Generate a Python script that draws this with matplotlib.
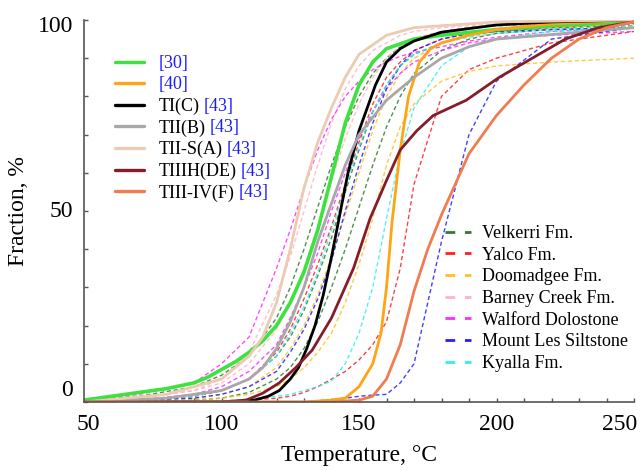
import matplotlib
matplotlib.use('Agg')
import matplotlib.pyplot as plt
import matplotlib.transforms as mtransforms

plt.rcParams['font.family'] = ['Liberation Serif', 'DejaVu Serif']

# ---- reference curves (solid) ----
green_T = [50, 60, 70, 80, 90, 95, 100, 105, 110, 115, 120, 125, 130, 135, 140, 145, 150, 155, 160, 170, 180, 200, 220, 250]
green_F = [0.5, 1.5, 2.5, 3.5, 5, 6.5, 8.5, 10.5, 13, 16, 20, 26, 34, 45, 59, 73, 83, 89, 92.5, 95, 96, 97.5, 98.5, 99.5]

orange_T = [50, 130, 140, 145, 150, 155, 158, 160, 162, 165, 168, 172, 176, 180, 190, 200, 220, 250]
orange_F = [0, 0, 0.5, 1, 4, 10, 18, 30, 47, 66, 80, 89, 92.5, 94, 96, 97.5, 99, 100]

black_T = [50, 105, 112, 117, 121, 125, 128, 131, 134, 137, 140, 143, 146, 150, 153, 156, 160, 165, 170, 180, 200, 220, 250]
black_F = [0, 0, 0.5, 1.5, 3, 6, 9, 14, 20, 28, 38, 49, 60, 71, 77, 83, 89, 92.5, 94.5, 96.8, 98.7, 99.5, 100]

gray_T = [50, 80, 100, 110, 115, 120, 125, 130, 135, 140, 145, 150, 160, 170, 180, 190, 200, 250]
gray_F = [0, 1, 3, 6, 9, 14, 21, 30, 42, 52, 62, 70, 79, 85, 90, 93, 95, 98]

tan_T = [50, 80, 100, 110, 115, 120, 125, 130, 135, 140, 145, 150, 160, 170, 200, 250]
tan_F = [0, 2, 6, 12, 17, 26, 40, 56, 68, 77, 85, 91, 96, 98, 99.5, 100]

dred_T = [50, 100, 109, 115, 121, 127, 133, 140, 148, 154, 160, 165, 171, 177, 189, 201, 213, 225, 237, 250]
dred_F = [0, 0, 0.5, 2.3, 5, 9, 13.6, 22, 35, 48, 58, 66, 71, 75, 79, 85, 90, 95, 98, 99.5]

salmon_T = [50, 140, 150, 155, 160, 165, 170, 175, 180, 185, 190, 200, 210, 220, 230, 240, 250]
salmon_F = [0, 0, 0.5, 1.5, 6, 15, 29, 40, 49, 57, 65, 75, 83, 90, 95, 98, 99.5]

# ---- formation samples (dashed) on a common temperature grid ----
grid_T = [50, 70, 90, 100, 110, 120, 125, 130, 135, 140, 145, 150, 155, 160, 165, 170, 180, 190, 200, 220, 250]

velkerri = [
    [0.5, 1.5, 4, 7, 12, 22, 30, 40, 51, 62, 72, 80, 86, 90, 93, 95, 97, 98, 98.5, 99, 99.5],
    [0, 0.5, 1.5, 3, 6, 12, 17, 24, 33, 43, 55, 66, 76, 83, 88, 91, 94, 96, 97, 98, 98.5],
    [0, 0, 0.5, 1, 2.5, 6, 9, 14, 21, 30, 40, 51, 62, 72, 80, 86, 92, 95, 96.5, 97.5, 98],
]
yalco = [
    [0, 0.5, 1.5, 3, 6, 13, 19, 27, 36, 46, 57, 68, 78, 85, 89, 92, 95, 96.5, 97.5, 98, 99],
    [0, 0, 0, 0, 0.5, 1, 1.5, 2.5, 4, 6, 8, 11, 15, 21, 35, 57, 80, 87, 90, 94, 97],
]
doomadgee = [
    [0, 0, 0.5, 1, 2, 4, 6, 9, 13, 18, 26, 36, 48, 62, 72, 78, 84, 86.5, 88, 89, 90],
    [0, 0.5, 1, 2, 4, 9, 14, 20, 28, 38, 49, 60, 71, 80, 86, 90, 94, 96, 97, 98, 99],
]
barney = [
    [0, 1, 3, 6, 13, 28, 38, 50, 62, 73, 82, 88, 92, 94, 96, 97, 98, 98.5, 99, 99.5, 100],
    [0, 1, 3, 5, 10, 19, 26, 35, 46, 58, 69, 78, 85, 90, 93, 95, 97, 98, 98.5, 99, 99.5],
]
walford = [
    [0.5, 2, 5, 10, 17, 35, 45, 56, 66, 74, 80, 84, 87, 89, 90.5, 91.5, 93, 94.5, 95.5, 97, 98],
    [0, 0.5, 2, 4, 8, 15, 22, 30, 39, 50, 60, 69, 76, 82, 86, 89, 92, 94, 95, 96, 97],
]
mountles = [
    [0, 0, 0, 0, 0, 0, 0, 0, 0.3, 0.6, 1, 1.5, 1.8, 2, 5, 10, 42, 70, 84, 95, 98],
    [0, 0.5, 1, 2, 4, 8, 13, 19, 27, 37, 50, 62, 73, 82, 88, 92, 95, 96.5, 97, 97.5, 98],
]
kyalla = [
    [0, 0, 0, 0.3, 0.8, 1.5, 2, 3, 4, 5.5, 10, 18, 30, 48, 65, 77, 88, 93, 95, 97, 98],
    [0, 0.5, 1.5, 3, 6, 12, 18, 25, 34, 45, 56, 67, 76, 83, 88, 91, 94, 95.5, 96.5, 97.5, 98.5],
]

formations = ['Velkerri Fm.', 'Yalco Fm.', 'Doomadgee Fm.', 'Barney Creek Fm.',
              'Walford Dolostone', 'Mount Les Siltstone', 'Kyalla Fm.']
form_data = [velkerri, yalco, doomadgee, barney, walford, mountles, kyalla]
form_colors = ['#2f7d2f', '#ff1f1f', '#ffc01f', '#ffb3c3', '#ff2bff', '#1f1fff', '#2ff0f0']

ref_names = ['[30]', '[40]', 'TI(C)', 'TII(B)', 'TII-S(A)', 'TIIIH(DE)', 'TIII-IV(F)']
ref_T = [green_T, orange_T, black_T, gray_T, tan_T, dred_T, salmon_T]
ref_F = [green_F, orange_F, black_F, gray_F, tan_F, dred_F, salmon_F]
ref_colors = ['#3ee23e', '#ffa414', '#000000', '#a8a8a8', '#ebcbb3', '#851c2a', '#f07c50']
blue = '#1c1cff'

fig = plt.figure(figsize=(6.44, 4.70), dpi=100)
ax = fig.add_axes([84 / 644, 1 - 402 / 470, 550 / 644, 382 / 470])

form_handles = []
for name, curves, c in zip(formations, form_data, form_colors):
    for i, F in enumerate(curves):
        ln, = ax.plot(grid_T, F, color=c, lw=1.0, ls=(0, (3, 2)), alpha=0.85)
        if i == 0:
            form_handles.append(ln)

ref_handles = []
for name, T, F, c in zip(ref_names, ref_T, ref_F, ref_colors):
    lw = 2.6 if c == '#3ee23e' else 2.0
    ln, = ax.plot(T, F, color=c, lw=lw, solid_capstyle='round')
    ref_handles.append(ln)

ax.set_xlim(50, 250)
ax.set_ylim(0, 100)
ax.set_xticks([50, 100, 150, 200, 250])
ax.set_xticks(range(50, 251, 10), minor=True)
ax.set_yticks([0, 50, 100])
ax.set_yticks(range(0, 101, 10), minor=True)
ax.tick_params(which='both', direction='in', length=3, width=1, colors='#555555',
               labelcolor='black', labelsize=17)
ax.tick_params(axis='x', pad=9)
ax.tick_params(axis='y', pad=8)
for s in ['top', 'right']:
    ax.spines[s].set_visible(False)
for s in ['left', 'bottom']:
    ax.spines[s].set_color('#555555')
    ax.spines[s].set_linewidth(1.2)

ax.set_xlabel('Temperature, °C', fontsize=17, labelpad=7)
ax.set_ylabel('Fraction, %', fontsize=17, labelpad=6)

# nudge a few tick labels like the original
fig.canvas.draw()
ylabs = ax.get_yticklabels()
for lab, dy in zip(ylabs, [14, 2, -4]):
    lab.set_transform(lab.get_transform() + mtransforms.ScaledTranslation(0, dy / 100, fig.dpi_scale_trans))
xlabs = ax.get_xticklabels()
xlabs[0].set_transform(xlabs[0].get_transform() + mtransforms.ScaledTranslation(4 / 100, 0, fig.dpi_scale_trans))
xlabs[-1].set_transform(xlabs[-1].get_transform() + mtransforms.ScaledTranslation(-14 / 100, 0, fig.dpi_scale_trans))

leg1 = ax.legend(ref_handles, ref_names, loc='upper left', frameon=False, fontsize=13,
                 bbox_to_anchor=(115 / 644, 1 - 55 / 470), bbox_transform=fig.transFigure,
                 borderaxespad=0, borderpad=0, handlelength=1.6, handletextpad=0.8,
                 labelspacing=0.24)
for ln in leg1.get_lines():
    ln.set_linewidth(2.4)
ax.add_artist(leg1)

leg2 = ax.legend(form_handles, formations, loc='upper left', frameon=False, fontsize=13,
                 bbox_to_anchor=(445 / 644, 1 - 225 / 470), bbox_transform=fig.transFigure,
                 borderaxespad=0, borderpad=0, handlelength=1.45, handletextpad=0.6,
                 labelspacing=0.26)
for ln in leg2.get_lines():
    ln.set_linewidth(2.0)
    ln.set_linestyle((0, (3.5, 3.5)))
    ln.set_alpha(1)

# blue citation after the legend names, placed once the legend is laid out
fig.canvas.draw()
for i, txt in enumerate(leg1.get_texts()):
    if i < 2:
        txt.set_color(blue)
    else:
        bb = txt.get_window_extent()
        fig.text(bb.x1 + 4.5, (bb.y0 + bb.y1) / 2, '[43]', transform=None,
                 va='center', ha='left', color=blue, fontsize=13)

fig.savefig('out.png', dpi=100)
